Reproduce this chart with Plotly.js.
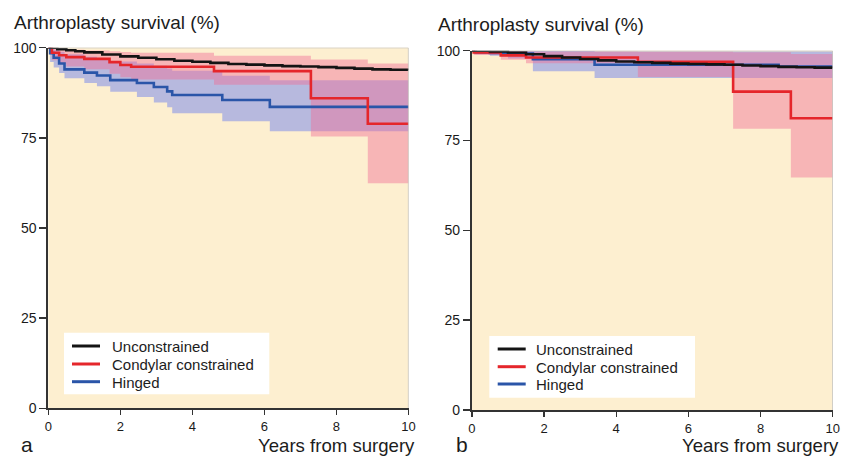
<!DOCTYPE html>
<html>
<head>
<meta charset="utf-8">
<script src="https://cdn.plot.ly/plotly-3.0.1.min.js"></script>
<style>html,body{margin:0;padding:0;background:#fff;}#chart{width:842px;height:456px;}</style>
</head>
<body>
<div id="chart"></div>
<script>
// ---------- Data ----------
const seriesNames = ["Unconstrained", "Condylar constrained", "Hinged"];
const xTicks = [0, 2, 4, 6, 8, 10];
const yTicks = [0, 25, 50, 75, 100];
const panelTitle = "Arthroplasty survival (%)";
const xTitle = "Years from surgery";
const panelLetters = ["a", "b"];

// Panel a
const aUncX = [0,0.25,0.5,0.75,1,1.5,2,2.5,3,3.5,4,4.5,5,5.5,6,6.5,7,7.5,8,8.5,9,9.5,10];
const aUncY = [100,99.6,99.3,99.0,98.7,98.1,97.6,97.2,96.8,96.4,96.1,95.8,95.5,95.3,95.1,94.9,94.8,94.6,94.4,94.2,94.0,93.9,93.8];

const aConX = [0,0.1,0.3,0.5,1.0,1.7,2.0,2.3,4.6,7.29,8.87,10];
const aConY = [100,98.6,97.9,97.4,96.9,96.0,95.2,94.7,93.5,86.0,78.9,78.9];
const aConLo = [100,96.5,95.5,94.8,94.0,92.8,91.8,91.2,89.7,75.4,62.4,62.4];
const aConHi = [100,99.8,99.6,99.4,99.2,99.0,98.8,98.6,97.8,96.7,95.6,95.6];

const aHinX = [0,0.05,0.15,0.3,0.45,1.0,1.35,1.72,2.46,2.93,3.3,3.44,4.83,6.15,10];
const aHinY = [100,98.5,97.2,95.6,94.0,93.1,92.3,91.0,90.2,89.1,87.9,86.9,85.5,83.6,83.6];
const aHinLo = [100,96.0,94.5,93.0,91.5,90.2,89.3,87.8,86.3,84.8,83.5,81.8,79.6,76.8,76.8];
const aHinHi = [100,99.8,99.4,98.9,98.2,97.5,97.0,96.2,95.6,95.0,94.2,93.6,92.2,91.0,91.0];

// Panel b
const bUncX = [0,0.5,1,1.5,2,2.5,3,3.5,4,4.5,5,5.5,6,6.5,7,7.5,8,8.5,9,9.5,10];
const bUncY = [100,99.8,99.5,99.0,98.5,98.1,97.7,97.3,97.0,96.8,96.6,96.4,96.3,96.2,96.1,95.9,95.7,95.5,95.4,95.3,95.2];

const bConX = [0,0.05,0.8,1.5,4.6,7.24,8.84,10];
const bConY = [100,99.5,98.7,98.1,96.9,88.6,81.2,81.2];
const bConLo = [100,98.8,97.5,96.5,92.7,78.3,64.7,64.7];
const bConHi = [100,100,99.9,99.8,99.7,99.6,99.1,99.1];

const bHinX = [0,0.1,0.5,1.0,1.69,3.4,8.5,10];
const bHinY = [100,99.6,99.4,99.2,97.6,96.1,95.6,95.6];
const bHinLo = [100,99.0,98.6,97.8,94.3,92.4,92.4,92.4];
const bHinHi = [100,100,100,100,99.9,99.8,99.8,99.8];

// ---------- Styles ----------
const FONT = "Liberation Sans, Arial, Helvetica, sans-serif";
const colBlack = "#141414", colRed = "#E5262B", colBlue = "#2A55A8";
const seriesColors = [colBlack, colRed, colBlue];
const fillRed = "rgba(240,110,150,0.45)";
const fillBlue = "rgba(98,120,240,0.45)";

function band(x, lo, hi, fill, xa, ya) {
  return [
    {x: x, y: lo, xaxis: xa, yaxis: ya, type: "scatter", mode: "lines",
     line: {width: 0, shape: "hv", color: fill}, showlegend: false, hoverinfo: "skip"},
    {x: x, y: hi, xaxis: xa, yaxis: ya, type: "scatter", mode: "lines",
     line: {width: 0, shape: "hv", color: fill}, fill: "tonexty", fillcolor: fill,
     showlegend: false, hoverinfo: "skip"}
  ];
}
function curve(x, y, color, name, xa, ya) {
  return {x: x, y: y, xaxis: xa, yaxis: ya, type: "scatter", mode: "lines", name: name,
    line: {color: color, width: 2.6, shape: "hv"}, showlegend: false};
}

// Draw order: bands (blue under red), then blue, red, black lines on top
const data = [].concat(
  band(aHinX, aHinLo, aHinHi, fillBlue, "x", "y"),
  band(aConX, aConLo, aConHi, fillRed, "x", "y"),
  band(bHinX, bHinLo, bHinHi, fillBlue, "x2", "y2"),
  band(bConX, bConLo, bConHi, fillRed, "x2", "y2"),
  [
    curve(aHinX, aHinY, colBlue, seriesNames[2], "x", "y"),
    curve(aConX, aConY, colRed, seriesNames[1], "x", "y"),
    curve(aUncX, aUncY, colBlack, seriesNames[0], "x", "y"),
    curve(bHinX, bHinY, colBlue, seriesNames[2], "x2", "y2"),
    curve(bConX, bConY, colRed, seriesNames[1], "x2", "y2"),
    curve(bUncX, bUncY, colBlack, seriesNames[0], "x2", "y2")
  ]
);

const W = 842, H = 456;
function xax(domain, anchor) {
  return {domain: domain, anchor: anchor, range: [0, 10], tickvals: xTicks,
    ticks: "outside", ticklen: 5, tickwidth: 1.4, tickcolor: "#333",
    showline: true, linecolor: "#333", linewidth: 2, showgrid: false, zeroline: false,
    tickfont: {family: FONT, size: 13, color: "#1a1a1a"}, fixedrange: true};
}
function yax(domain, anchor) {
  return {domain: domain, anchor: anchor, range: [0, 100], tickvals: yTicks,
    ticks: "outside", ticklen: 7, tickwidth: 1.4, tickcolor: "#333",
    showline: true, linecolor: "#333", linewidth: 2, showgrid: false, zeroline: false,
    tickfont: {family: FONT, size: 14, color: "#1a1a1a"}, fixedrange: true};
}
function edge(xref, yref) {
  return [
    {type: "line", xref: xref, yref: yref, x0: 0, x1: 10, y0: 100, y1: 100,
     line: {color: "#b8b8b8", width: 1.2}, layer: "above"},
    {type: "line", xref: xref, yref: yref, x0: 10, x1: 10, y0: 0, y1: 100,
     line: {color: "#b8b8b8", width: 1.2}, layer: "above"}
  ];
}
function ann(text, x, y, xanchor, size) {
  return {text: text, x: x, y: y, xref: "paper", yref: "paper", xanchor: xanchor,
    yanchor: "middle", showarrow: false, font: {family: FONT, size: size, color: "#1c1c1c"}};
}
// legend key box (pixel layout -> paper coords)
function legendBox(left, top, right, bottom, lineX0, lineX1, rowsY, textX) {
  const shapes = [{type: "rect", xref: "paper", yref: "paper",
    x0: left / W, x1: right / W, y0: 1 - bottom / H, y1: 1 - top / H,
    fillcolor: "#ffffff", line: {width: 0}, layer: "above"}];
  const anns = [];
  seriesNames.forEach((nm, i) => {
    shapes.push({type: "line", xref: "paper", yref: "paper",
      x0: lineX0 / W, x1: lineX1 / W, y0: 1 - rowsY[i] / H, y1: 1 - rowsY[i] / H,
      line: {color: seriesColors[i], width: 3}, layer: "above"});
    anns.push(ann(nm, textX / W, 1 - (rowsY[i] + 0.5) / H, "left", 15));
  });
  return {shapes: shapes, anns: anns};
}
const legA = legendBox(64, 332.7, 269.3, 394.3, 72, 100, [346, 364, 381.7], 109.5);
const legB = legendBox(489.3, 336, 695, 397.7, 497.7, 525.7, [349, 366.7, 384], 534);

const layout = {
  width: W, height: H,
  margin: {l: 0, r: 0, t: 0, b: 0},
  paper_bgcolor: "#ffffff",
  plot_bgcolor: "#FDEFD0",
  font: {family: FONT, color: "#222"},
  showlegend: false,
  xaxis: xax([48.3 / W, 408.5 / W], "y"),
  yaxis: yax([1 - 408.3 / H, 1 - 47.7 / H], "x"),
  xaxis2: xax([471.9 / W, 832.7 / W], "y2"),
  yaxis2: yax([1 - 410 / H, 1 - 50.7 / H], "x2"),
  shapes: edge("x", "y").concat(edge("x2", "y2"), legA.shapes, legB.shapes),
  annotations: [
    ann(panelTitle, 12 / W, 1 - 22.2 / H, "left", 19),
    ann(panelTitle, 436 / W, 1 - 24.4 / H, "left", 19),
    ann(xTitle, 417 / W, 1 - 445.6 / H, "right", 18.6),
    ann(xTitle, 841 / W, 1 - 445.6 / H, "right", 18.6),
    ann(panelLetters[0], 19 / W, 1 - 444 / H, "left", 21),
    ann(panelLetters[1], 454 / W, 1 - 444 / H, "left", 21)
  ].concat(legA.anns, legB.anns)
};

Plotly.newPlot("chart", data, layout, {displayModeBar: false, staticPlot: true});
</script>
</body>
</html>
